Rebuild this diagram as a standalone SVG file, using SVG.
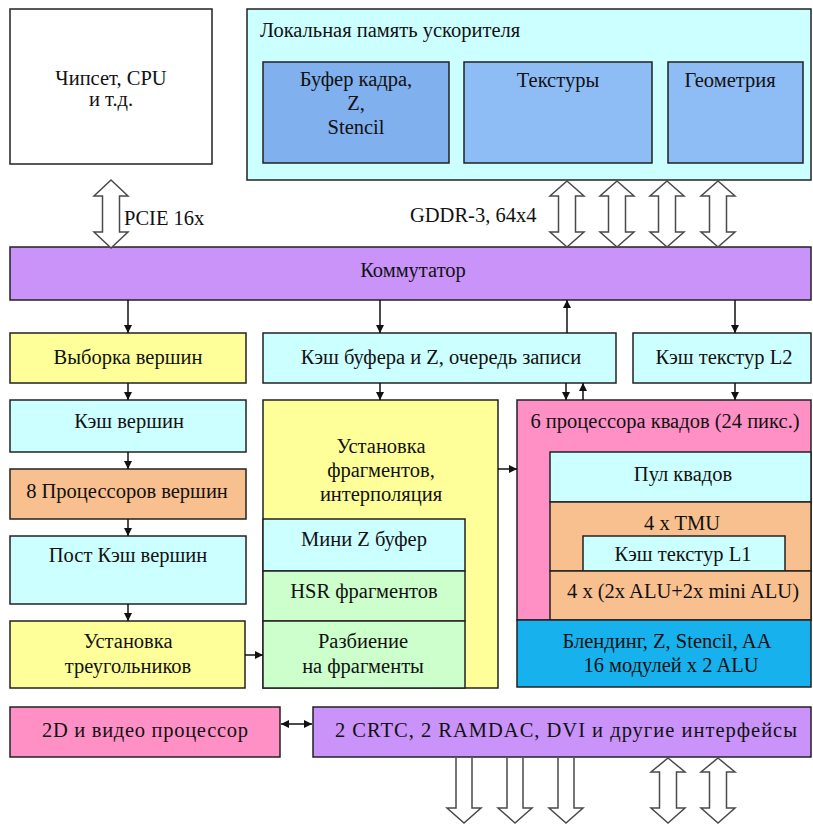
<svg xmlns="http://www.w3.org/2000/svg" width="813" height="825" viewBox="0 0 813 825">
<style>
  .b { stroke: #222; stroke-width: 1.5; }
  .w { fill: #ffffff; }
  .cy { fill: #ccffff; }
  .ye { fill: #ffff99; }
  .or { fill: #f9c08f; }
  .pk { fill: #ff90c6; }
  .pu { fill: #c993f9; }
  .gr { fill: #ccffcc; }
  .bl { fill: #17b2ee; }
  .mb { fill: #8ebdf6; }
  .mb2 { fill: #80b0ed; }
  text { font-family: "Liberation Serif", "Times New Roman", "DejaVu Serif", serif; font-size: 20.5px; fill: #111; }
  .c { text-anchor: middle; }
  .ln { stroke: #111; stroke-width: 1.5; fill: none; }
  .ha { fill: #ffffff; stroke: #4a4a4a; stroke-width: 1.5; stroke-linejoin: miter; }
</style>
<defs>
  <marker id="ah" viewBox="0 0 10 10" refX="10" refY="5" markerWidth="8" markerHeight="8" markerUnits="userSpaceOnUse" orient="auto-start-reverse">
    <path d="M0,0 L10,5 L0,10 Z" fill="#111"/>
  </marker>
</defs>
<rect width="813" height="825" fill="#ffffff"/>

<g id="chipset">
  <rect class="b w" x="10" y="9" width="202" height="155"/>
  <text class="c" x="111" y="85">Чипсет, CPU</text>
  <text class="c" x="111" y="106">и т.д.</text>
</g>

<g id="local-memory">
  <rect class="b cy" x="247" y="9" width="564" height="171"/>
  <text x="260" y="37">Локальная память ускорителя</text>
</g>
<g id="framebuffer">
  <rect class="b mb2" x="263" y="62" width="186" height="101"/>
  <text class="c" x="356" y="86">Буфер кадра,</text>
  <text class="c" x="356" y="110">Z,</text>
  <text class="c" x="356" y="134">Stencil</text>
</g>
<g id="textures">
  <rect class="b mb" x="464" y="62" width="188" height="101"/>
  <text class="c" x="558" y="87">Текстуры</text>
</g>
<g id="geometry">
  <rect class="b mb" x="668" y="62" width="135" height="101"/>
  <text class="c" x="730" y="87">Геометрия</text>
</g>

<g id="labels">
  <text x="124" y="225">PCIE 16x</text>
  <text x="410" y="222">GDDR-3, 64x4</text>
</g>

<g id="switch">
  <rect class="b pu" x="10" y="247" width="801" height="53"/>
  <text class="c" x="413" y="277">Коммутатор</text>
</g>

<g id="vertex-fetch">
  <rect class="b ye" x="10" y="333" width="236" height="50"/>
  <text class="c" x="128" y="364">Выборка вершин</text>
</g>
<g id="zcache">
  <rect class="b cy" x="263" y="333" width="353" height="50"/>
  <text class="c" x="441" y="364">Кэш буфера и Z, очередь записи</text>
</g>
<g id="l2">
  <rect class="b cy" x="633" y="333" width="178" height="50"/>
  <text class="c" x="724" y="364">Кэш текстур L2</text>
</g>

<g id="vertex-cache">
  <rect class="b cy" x="10" y="400" width="236" height="52"/>
  <text class="c" x="129" y="428">Кэш вершин</text>
</g>
<g id="vertex-proc">
  <rect class="b or" x="10" y="469" width="236" height="50"/>
  <text class="c" x="127" y="498">8 Процессоров вершин</text>
</g>
<g id="post-cache">
  <rect class="b cy" x="10" y="536" width="236" height="68"/>
  <text class="c" x="128" y="562">Пост Кэш вершин</text>
</g>
<g id="tri-setup">
  <rect class="b ye" x="10" y="621" width="235" height="67"/>
  <text class="c" x="128" y="648">Установка</text>
  <text class="c" x="128" y="673">треугольников</text>
</g>

<g id="frag-setup">
  <rect class="b ye" x="263" y="400" width="235" height="288"/>
  <text class="c" x="381" y="453">Установка</text>
  <text class="c" x="381" y="477">фрагментов,</text>
  <text class="c" x="381" y="501">интерполяция</text>
</g>
<g id="mini-z">
  <rect class="b cy" x="263" y="519" width="202" height="52"/>
  <text class="c" x="364" y="546">Мини Z буфер</text>
</g>
<g id="hsr">
  <rect class="b gr" x="263" y="571" width="202" height="50"/>
  <text class="c" x="364" y="598">HSR фрагментов</text>
</g>
<g id="raster">
  <rect class="b gr" x="263" y="621" width="202" height="67"/>
  <text class="c" x="363" y="648">Разбиение</text>
  <text class="c" x="363" y="673">на фрагменты</text>
</g>

<g id="quad-procs">
  <rect class="b pk" x="517" y="400" width="294" height="220"/>
  <text class="c" x="665" y="428">6 процессора квадов (24 пикс.)</text>
</g>
<g id="quad-pool">
  <rect class="b cy" x="550" y="452" width="261" height="50"/>
  <text class="c" x="683" y="481">Пул квадов</text>
</g>
<g id="tmu">
  <rect class="b or" x="550" y="502" width="261" height="69"/>
  <text class="c" x="682" y="530">4 x TMU</text>
</g>
<g id="l1">
  <rect class="b cy" x="583" y="536" width="202" height="35"/>
  <text class="c" x="683" y="561">Кэш текстур L1</text>
</g>
<g id="alu">
  <rect class="b or" x="550" y="571" width="261" height="49"/>
  <text class="c" x="683" y="598">4 x (2x ALU+2x mini ALU)</text>
</g>
<g id="rop">
  <rect class="b bl" x="517" y="620" width="294" height="67"/>
  <text class="c" x="667" y="648">Блендинг, Z, Stencil, AA</text>
  <text class="c" x="671" y="672">16 модулей x 2 ALU</text>
</g>

<g id="video2d">
  <rect class="b pk" x="10" y="707" width="270" height="50"/>
  <text class="c" x="145" y="737" textLength="206" lengthAdjust="spacing">2D и видео процессор</text>
</g>
<g id="display">
  <rect class="b pu" x="313" y="707" width="498" height="50"/>
  <text class="c" x="566" y="737" textLength="462" lengthAdjust="spacing">2 CRTC, 2 RAMDAC, DVI и другие интерфейсы</text>
</g>

<g id="connectors">
  <path class="ha" d="M111,180 L128,196 L119.5,196 L119.5,232 L128,232 L111,248 L94,232 L102.5,232 L102.5,196 L94,196 Z"/>
  <path class="ha" d="M567,181 L584,196 L575.5,196 L575.5,232 L584,232 L567,247 L550,232 L558.5,232 L558.5,196 L550,196 Z"/>
  <path class="ha" d="M617,181 L634,196 L625.5,196 L625.5,232 L634,232 L617,247 L600,232 L608.5,232 L608.5,196 L600,196 Z"/>
  <path class="ha" d="M667,181 L684,196 L675.5,196 L675.5,232 L684,232 L667,247 L650,232 L658.5,232 L658.5,196 L650,196 Z"/>
  <path class="ha" d="M718,181 L735,196 L726.5,196 L726.5,232 L735,232 L718,247 L701,232 L709.5,232 L709.5,196 L701,196 Z"/>
  <path class="ha" d="M456,758 L456,808 L447,808 L464,823 L481,808 L472,808 L472,758"/>
  <path class="ha" d="M507,758 L507,808 L498,808 L515,823 L532,808 L523,808 L523,758"/>
  <path class="ha" d="M558,758 L558,808 L549,808 L566,823 L583,808 L574,808 L574,758"/>
  <path class="ha" d="M668,758 L685,772 L676.5,772 L676.5,808 L685,808 L668,823 L651,808 L659.5,808 L659.5,772 L651,772 Z"/>
  <path class="ha" d="M718,758 L735,772 L726.5,772 L726.5,808 L735,808 L718,823 L701,808 L709.5,808 L709.5,772 L701,772 Z"/>
  <line class="ln" x1="128" y1="300" x2="128" y2="333" marker-end="url(#ah)"/>
  <line class="ln" x1="380" y1="300" x2="380" y2="333" marker-end="url(#ah)"/>
  <line class="ln" x1="567" y1="333" x2="567" y2="300" marker-end="url(#ah)"/>
  <line class="ln" x1="735" y1="300" x2="735" y2="333" marker-end="url(#ah)"/>
  <line class="ln" x1="128" y1="383" x2="128" y2="400" marker-end="url(#ah)"/>
  <line class="ln" x1="380" y1="383" x2="380" y2="400" marker-end="url(#ah)"/>
  <line class="ln" x1="566" y1="383" x2="566" y2="400" marker-end="url(#ah)"/>
  <line class="ln" x1="583" y1="400" x2="583" y2="383" marker-end="url(#ah)"/>
  <line class="ln" x1="735" y1="383" x2="735" y2="400" marker-end="url(#ah)"/>
  <line class="ln" x1="128" y1="452" x2="128" y2="469" marker-end="url(#ah)"/>
  <line class="ln" x1="128" y1="519" x2="128" y2="536" marker-end="url(#ah)"/>
  <line class="ln" x1="128" y1="604" x2="128" y2="621" marker-end="url(#ah)"/>
  <line class="ln" x1="245" y1="655" x2="263" y2="655" marker-end="url(#ah)"/>
  <line class="ln" x1="498" y1="469" x2="517" y2="469" marker-end="url(#ah)"/>
  <line class="ln" x1="281" y1="724" x2="312" y2="724" marker-start="url(#ah)" marker-end="url(#ah)"/>
</g>
</svg>
